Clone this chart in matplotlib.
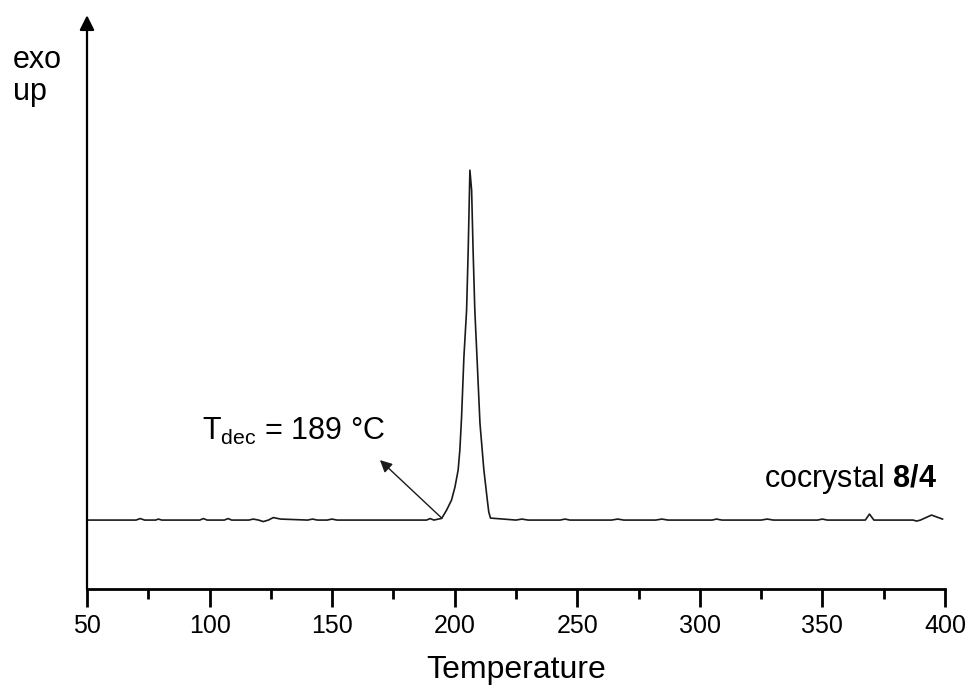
import matplotlib
matplotlib.use('Agg')
import matplotlib.pyplot as plt

# ── Style ─────────────────────────────────────────────────────────────────────

plt.rcParams['font.family'] = ['Liberation Sans', 'DejaVu Sans']
plt.rcParams['mathtext.fontset'] = 'custom'
plt.rcParams['mathtext.rm'] = 'Liberation Sans'
plt.rcParams['mathtext.bf'] = 'Liberation Sans:bold'

# ── Data ──────────────────────────────────────────────────────────────────────

temperature = [50, 70, 71.7, 73.5, 78, 79.1, 80.5, 96, 97.5, 99, 106, 107.6, 109,
               116, 117.8, 120, 121.9, 124, 126, 129, 140, 142, 144, 148,
               149.9, 152, 170, 188.5, 190, 191.5, 194.7, 196.7, 198.7, 200.1,
               201.4, 202.1, 202.8, 203.75, 204.85, 205.5, 206.2, 206.9, 207.5,
               208.2, 209.2, 210.3, 211.9, 212.7, 213.3, 213.9, 214.6, 225,
               227.4, 230, 243, 245, 247, 264, 266.5, 269, 282, 284.5, 287, 305,
               306.8, 309, 325, 327.5, 330, 348, 350, 352, 367.5, 369.2, 371,
               387, 388.4, 390, 394.5, 399]
heat_flow = [0.69, 0.69, 0.705, 0.69, 0.69, 0.70, 0.69, 0.69, 0.705, 0.69, 0.69,
             0.705, 0.69, 0.69, 0.70, 0.69, 0.675, 0.69, 0.715, 0.70, 0.69,
             0.70, 0.69, 0.69, 0.70, 0.69, 0.69, 0.69, 0.705, 0.69, 0.707,
             0.79, 0.89, 1.02, 1.19, 1.39, 1.72, 2.32, 2.79, 3.39, 4.19, 3.99,
             3.39, 2.79, 2.26, 1.66, 1.19, 1.02, 0.89, 0.77, 0.71, 0.69, 0.70,
             0.69, 0.69, 0.70, 0.69, 0.69, 0.70, 0.69, 0.69, 0.70, 0.69, 0.69,
             0.70, 0.69, 0.69, 0.70, 0.69, 0.69, 0.70, 0.69, 0.69, 0.75, 0.69,
             0.69, 0.68, 0.69, 0.74, 0.70]

x_ticks = [50, 100, 150, 200, 250, 300, 350, 400]

# ── Plot ──────────────────────────────────────────────────────────────────────

fig = plt.figure(figsize=(9.71, 6.93), dpi=100)
ax = fig.add_axes([0.0896, 0.150, 0.8836, 0.828])

ax.plot(temperature, heat_flow, color='#1a1a1a', linewidth=1.2)

ax.set_xlim(50, 400)
ax.set_ylim(0, 5.74)
ax.set_xticks(x_ticks)
ax.set_xticks([75, 125, 175, 225, 275, 325, 375], minor=True)
ax.set_yticks([])
ax.tick_params(axis='x', which='major', length=13, width=2, labelsize=18, pad=5)
ax.tick_params(axis='x', which='minor', length=7, width=2)

for side in ['top', 'right', 'left']:
    ax.spines[side].set_visible(False)
ax.spines['bottom'].set_linewidth(2)

# y axis drawn as an arrow (exo up)
ax.annotate('', xy=(0, 1.0), xytext=(0, 0), xycoords='axes fraction',
            arrowprops=dict(arrowstyle='-|>', color='black', lw=1.6,
                            mutation_scale=22, shrinkA=0, shrinkB=0),
            annotation_clip=False)

ax.set_xlabel('Temperature', fontsize=23, labelpad=12)

# onset annotation
ax.annotate('', xy=(169.5, 1.29), xytext=(194.7, 0.71),
            arrowprops=dict(arrowstyle='-|>', color='#1a1a1a', lw=1.0,
                            mutation_scale=18, shrinkA=0, shrinkB=0))
ax.text(97, 1.49, r'T$_{\mathregular{dec}}$ = 189 °C', fontsize=22,
        ha='left', va='baseline')

ax.text(396.9, 1.02, r'cocrystal $\mathbf{8/4}$', fontsize=22,
        ha='right', va='baseline')

fig.text(0.013, 1 - 45 / 693, 'exo\nup', fontsize=22, ha='left', va='top',
         linespacing=1.1)

plt.savefig('out.png', dpi=100)
plt.close()
